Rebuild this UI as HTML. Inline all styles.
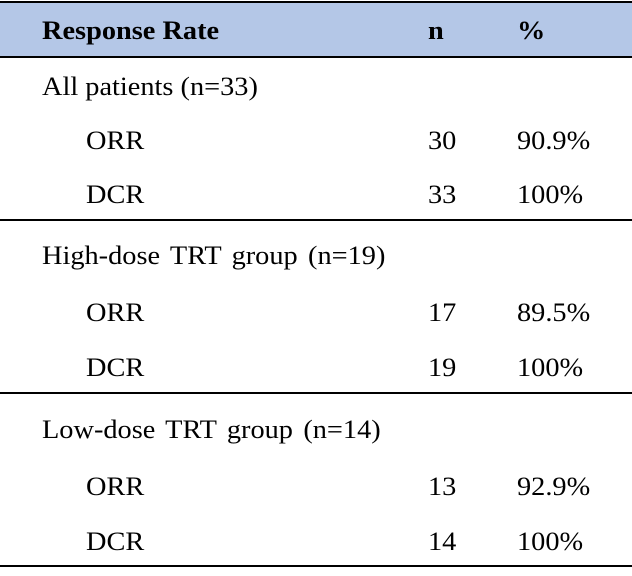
<!DOCTYPE html>
<html><head><style>
body{margin:0;width:632px;height:576px;background:#fff;position:relative;font-family:"Liberation Serif",serif;font-size:26px;color:#000;overflow:hidden}
.t{position:absolute;line-height:24px;white-space:nowrap;transform:scaleX(1.09);transform-origin:0 50%}
.l{position:absolute;left:0;width:632px;background:#000}
</style></head><body>
<div style="position:absolute;left:0;top:2px;width:632px;height:55px;background:#b4c7e7"></div>
<div class="l" style="top:1px;height:2px"></div>
<div class="l" style="top:56px;height:2px"></div>
<div class="l" style="top:219px;height:2px"></div>
<div class="l" style="top:392px;height:2px"></div>
<div class="l" style="top:565px;height:2px"></div>
<div class="t" style="left:42px;top:19px;font-weight:bold">Response Rate</div>
<div class="t" style="left:428px;top:19px;font-weight:bold">n</div>
<div class="t" style="left:517px;top:19px;font-weight:bold">%</div>

<div class="t" style="left:42px;top:75px">All patients (n=33)</div>
<div class="t" style="left:86px;top:129px">ORR</div><div class="t" style="left:428px;top:129px">30</div><div class="t" style="left:517px;top:129px">90.9%</div>
<div class="t" style="left:86px;top:183px">DCR</div><div class="t" style="left:428px;top:183px">33</div><div class="t" style="left:517px;top:183px">100%</div>

<div class="t" style="left:42px;top:244px;word-spacing:3px">High-dose TRT group (n=19)</div>
<div class="t" style="left:86px;top:301px">ORR</div><div class="t" style="left:428px;top:301px">17</div><div class="t" style="left:517px;top:301px">89.5%</div>
<div class="t" style="left:86px;top:356px">DCR</div><div class="t" style="left:428px;top:356px">19</div><div class="t" style="left:517px;top:356px">100%</div>

<div class="t" style="left:42px;top:418px;word-spacing:3px">Low-dose TRT group (n=14)</div>
<div class="t" style="left:86px;top:475px">ORR</div><div class="t" style="left:428px;top:475px">13</div><div class="t" style="left:517px;top:475px">92.9%</div>
<div class="t" style="left:86px;top:530px">DCR</div><div class="t" style="left:428px;top:530px">14</div><div class="t" style="left:517px;top:530px">100%</div>
</body></html>
